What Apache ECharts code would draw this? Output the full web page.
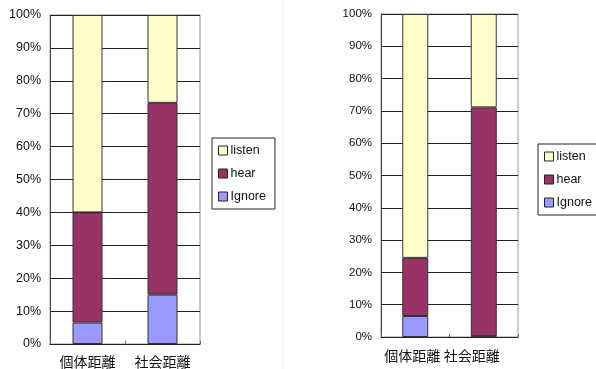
<!DOCTYPE html>
<html>
<head>
<meta charset="utf-8">
<script src="https://cdn.jsdelivr.net/npm/echarts@6/dist/echarts.min.js"></script>
<style>
html,body{margin:0;padding:0;background:#fff;}
#c{width:596px;height:369px;}
</style>
</head>
<body>
<div id="c"></div>
<script>
const categories = ['個体距離', '社会距離'];
const seriesNames = ['listen', 'hear', 'Ignore'];
const leftIgnore = [6.5, 15.0];
const leftHear = [33.5, 58.3];
const leftListen = [60.0, 26.7];
const rightIgnore = [6.5, 0.3];
const rightHear = [18.0, 70.8];
const rightListen = [75.5, 28.9];
const yTicks = [0, 10, 20, 30, 40, 50, 60, 70, 80, 90, 100];

const colors = {listen: '#FFFFCC', hear: '#993366', Ignore: '#9999FF'};
const fontLatin = 'Liberation Sans, Arial, sans-serif';
const fontCJK = '"Noto Sans CJK JP", sans-serif';

function yAxis(gi, fs) {
  return {
    type: 'value', gridIndex: gi, min: yTicks[0], max: yTicks[yTicks.length - 1], interval: 10,
    axisLine: {show: true, lineStyle: {color: '#444', width: 1}},
    axisTick: {show: false},
    splitLine: {show: true, lineStyle: {color: '#222', width: 1}},
    axisLabel: {formatter: '{value}%', fontSize: fs, color: '#111', fontFamily: fontLatin, margin: 9}
  };
}
function xAxis(gi, margin, shifts) {
  return {
    type: 'category', gridIndex: gi,
    data: categories.map((c, i) => ({value: c, textStyle: {padding: [0, shifts[i], 0, 0]}})),
    axisLine: {show: true, lineStyle: {color: '#222', width: 1}},
    axisTick: {show: true, inside: true, length: 3, lineStyle: {color: '#666'}},
    axisLabel: {interval: 0, hideOverlap: false, fontSize: 14, color: '#111', fontFamily: fontCJK, margin: margin},
    splitLine: {show: false}
  };
}
function bar(name, data, gi, stack, w) {
  return {
    name: name, type: 'bar', stack: stack, data: data,
    xAxisIndex: gi, yAxisIndex: gi, barWidth: w,
    itemStyle: {color: colors[name], borderColor: '#333', borderWidth: 1},
    emphasis: {disabled: true}, animation: false
  };
}
function legend(left, top) {
  return {
    data: seriesNames.map(n => ({name: n, icon: 'rect'})),
    orient: 'vertical', left: left, top: top,
    padding: [6, 9, 6, 6], itemGap: 10, itemWidth: 9, itemHeight: 9,
    borderColor: '#222', borderWidth: 1,
    textStyle: {fontSize: 12.5, color: '#111', fontFamily: fontLatin, padding: [0, 0, 0, -2], lineHeight: 13},
    itemStyle: {borderColor: '#222', borderWidth: 1},
    selectedMode: false
  };
}

const chart = echarts.init(document.getElementById('c'), null, {renderer: 'canvas'});
chart.setOption({
  animation: false,
  backgroundColor: '#fff',
  grid: [
    {left: 50, top: 15, width: 150, height: 329, show: true, borderColor: '#999', borderWidth: 1, backgroundColor: 'transparent'},
    {left: 381, top: 14, width: 137, height: 323, show: true, borderColor: '#999', borderWidth: 1, backgroundColor: 'transparent'}
  ],
  xAxis: [xAxis(0, 11, [0, 0]), xAxis(1, 12, [6, 24])],
  yAxis: [yAxis(0, 12.5), yAxis(1, 11.5)],
  legend: [legend(212, 138), legend(538, 144)],
  graphic: [
    {type: 'line', shape: {x1: 283, y1: 0, x2: 283, y2: 369}, style: {stroke: '#f0f0f0', lineWidth: 1}, silent: true}
  ],
  series: [
    bar('Ignore', leftIgnore, 0, 'L', 30),
    bar('hear', leftHear, 0, 'L', 30),
    bar('listen', leftListen, 0, 'L', 30),
    bar('Ignore', rightIgnore, 1, 'R', 26),
    bar('hear', rightHear, 1, 'R', 26),
    bar('listen', rightListen, 1, 'R', 26)
  ]
});
</script>
</body>
</html>
